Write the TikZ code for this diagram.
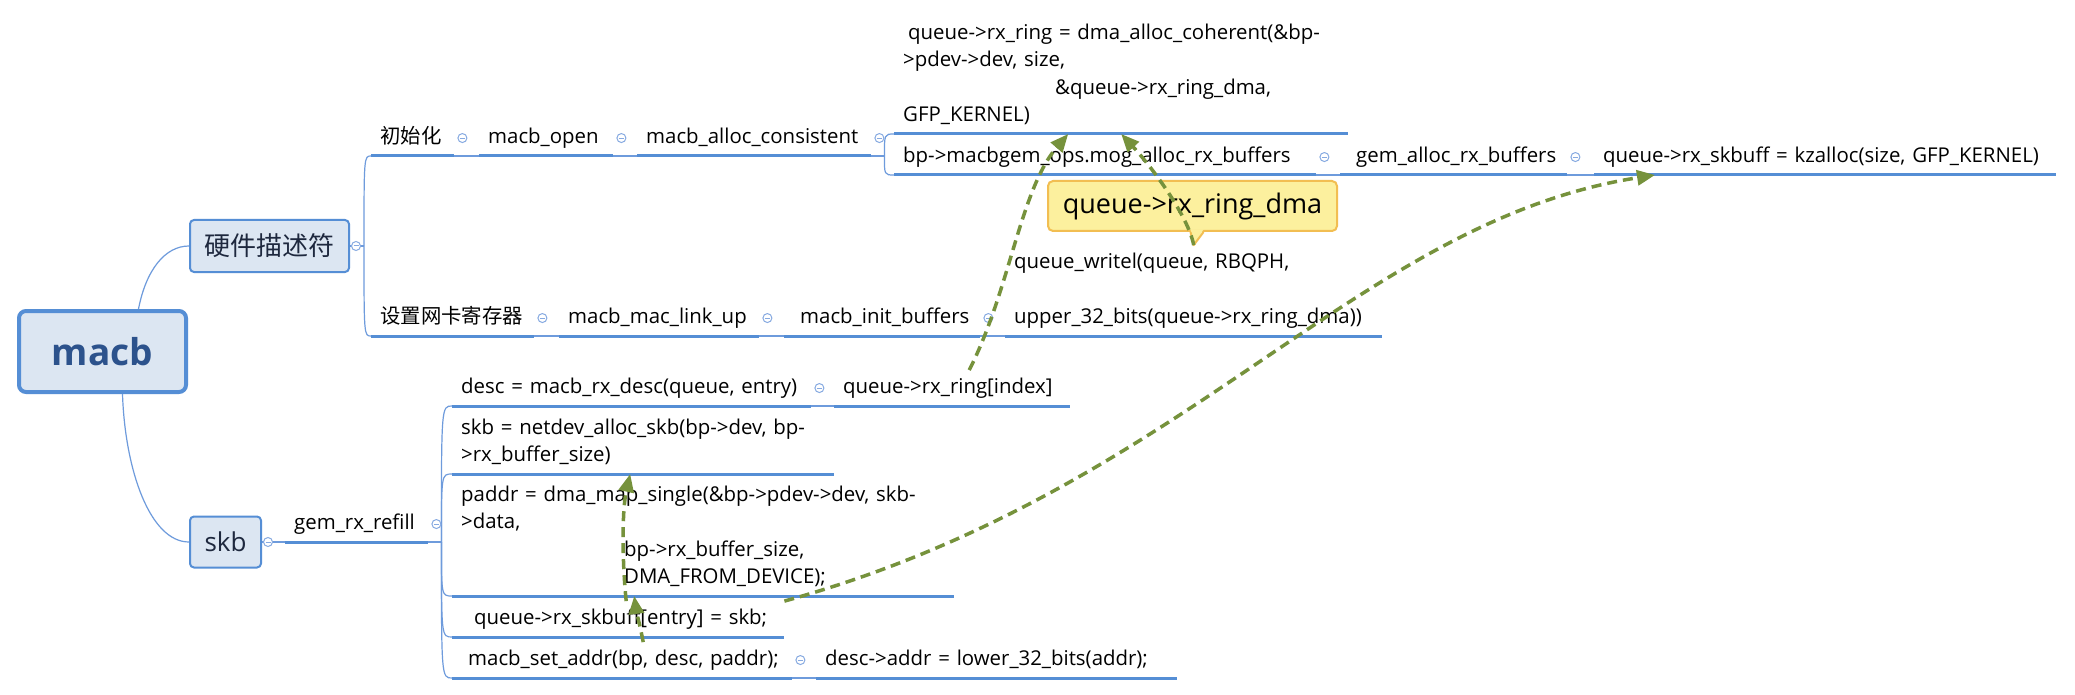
\documentclass[tikz,border=0pt]{standalone}
\usepackage{fontspec}
\setmainfont{Open Sans}
\newfontfamily\cjk{Noto Sans CJK SC}
\usetikzlibrary{arrows.meta, calc}
\definecolor{ulblue}{RGB}{85,142,213}
\definecolor{linkblue}{RGB}{110,155,220}
\definecolor{foldblue}{RGB}{135,170,225}
\definecolor{boxfill}{RGB}{220,230,242}
\definecolor{boxtext}{RGB}{44,82,140}
\definecolor{hubtext}{RGB}{30,40,62}
\definecolor{callfill}{RGB}{252,240,158}
\definecolor{callline}{RGB}{242,190,82}
\definecolor{relgreen}{RGB}{118,146,60}
\newcommand\bodyfont{\fontsize{20.4}{27.5}\selectfont}

\begin{document}
\begin{tikzpicture}[x=1pt, y=-1pt,
    topic/.style={anchor=south west, inner xsep=9pt, inner ysep=4pt, align=left, font=\bodyfont,
      /utils/exec={\pgfmathsetlengthmacro\topicw{#1-18}}, text width=\topicw,
      execute at begin node=\strut, execute at end node=\strut},
    uline/.style={ulblue, line width=3pt},
    link/.style={linkblue, line width=1.2pt},
    fold/.style={circle, draw=foldblue, fill=white, line width=1pt, minimum size=9pt, inner sep=0pt,
      path picture={\draw[foldblue, line width=1pt] ([xshift=-2.5pt]path picture bounding box.center) -- ([xshift=2.5pt]path picture bounding box.center);}},
    hubbox/.style={draw=ulblue, fill=boxfill, rounded corners=4pt, line width=2pt, inner sep=0pt, text=hubtext},
    note/.style={draw=callline, fill=callfill, line width=2pt, rounded corners=5pt, minimum width=289pt, minimum height=50pt, font=\fontsize{27}{30}\selectfont},
    relarrow/.style={relgreen, line width=3.5pt, dash pattern=on 10pt off 6pt, -{Triangle[length=18pt, width=15pt]}}]
  \path[use as bounding box, fill=white] (0,0) rectangle (2075,695);

  \node[hubbox, line width=4pt, rounded corners=7pt, minimum width=167pt, minimum height=81pt,
    font=\fontsize{37}{40}\selectfont\bfseries, text=boxtext] (root) at (102.5,351.5) {macb};
  \node[hubbox, minimum width=159pt, minimum height=52pt, font=\fontsize{26}{30}\selectfont\cjk] (hw) at (269.5,246) {硬件描述符};
  \node[hubbox, minimum width=71pt, minimum height=51pt, font=\fontsize{26}{30}\selectfont] (skb) at (225.5,542) {skb};

  \node[topic=83] (init) at (371,156) {\cjk 初始化};
  \node[topic=134] (open) at (479,156) {macb\_open};
  \node[topic=234] (consist) at (637,156) {macb\_alloc\_consistent};
  \node[topic=454] (ring) at (894,134) {\hspace*{5pt}queue->rx\_ring = dma\_alloc\_coherent(\&bp-\\
    >pdev->dev, size,\\
    \hspace*{152pt}\&queue->rx\_ring\_dma,\\
    GFP\_KERNEL)};
  \node[topic=422] (mog) at (894,175) {bp->macbgem\_ops.mog\_alloc\_rx\_buffers};
  \node[topic=227] (gemalloc) at (1340,175) {\hspace*{7pt}gem\_alloc\_rx\_buffers};
  \node[topic=462] (kzalloc) at (1594,175) {queue->rx\_skbuff = kzalloc(size, GFP\_KERNEL)};
  \node[topic=163] (regs) at (371,336) {\cjk 设置网卡寄存器};
  \node[topic=200] (linkup) at (559,336) {macb\_mac\_link\_up};
  \node[topic=196] (initbuf) at (784,336) {\hspace*{7pt}macb\_init\_buffers};
  \node[topic=377] (writel) at (1005,336) {queue\_writel(queue, RBQPH,\\[27.5pt]upper\_32\_bits(queue->rx\_ring\_dma))};

  \node[topic=143] (refill) at (285,542) {gem\_rx\_refill};
  \node[topic=359] (desc) at (452,406) {desc = macb\_rx\_desc(queue, entry)};
  \node[topic=236] (ringidx) at (834,406) {queue->rx\_ring[index]};
  \node[topic=382] (alloc) at (452,474) {skb = netdev\_alloc\_skb(bp->dev, bp-\\>rx\_buffer\_size)};
  \node[topic=502] (dmamap) at (452,596) {paddr = dma\_map\_single(\&bp->pdev->dev, skb-\\
    >data,\\
    \hspace*{163pt}bp->rx\_buffer\_size,\\
    \hspace*{163pt}DMA\_FROM\_DEVICE);};
  \node[topic=332] (skbuff) at (452,637) {\hspace*{13pt}queue->rx\_skbuff[entry] = skb;};
  \node[topic=340] (setaddr) at (452,678) {\hspace*{7pt}macb\_set\_addr(bp, desc, paddr);};
  \node[topic=361] (lower) at (816,678) {desc->addr = lower\_32\_bits(addr);};

  \draw[link] ([xshift=36pt]root.north) .. controls (146,270) and (165,246) .. (hw.west);
  \draw[link] ([xshift=20pt]root.south) .. controls (125,470) and (150,542) .. (skb.west);

  \coordinate (hwj) at ([xshift=14pt]hw.east);
  \draw[link] (hw.east) -- (hwj);
  \foreach \n in {init, regs}
    \draw[link] (hwj) .. controls (hwj |- \n.south west) .. (\n.south west);
  \draw[link] (init.south east) -- (open.south west);
  \draw[link] (open.south east) -- (consist.south west);
  \coordinate (cj) at ([xshift=13pt]consist.south east);
  \draw[link] (consist.south east) -- (cj);
  \foreach \n in {ring, mog}
    \draw[link] (cj) .. controls (cj |- \n.south west) .. (\n.south west);
  \draw[link] (mog.south east) -- (gemalloc.south west);
  \draw[link] (gemalloc.south east) -- (kzalloc.south west);
  \draw[link] (regs.south east) -- (linkup.south west);
  \draw[link] (linkup.south east) -- (initbuf.south west);
  \draw[link] (initbuf.south east) -- (writel.south west);

  \draw[link] (skb.east) -- (refill.south west);
  \coordinate (rj) at ([xshift=13pt]refill.south east);
  \draw[link] (refill.south east) -- (rj);
  \foreach \n in {desc, alloc, dmamap, skbuff, setaddr}
    \draw[link] (rj) .. controls (rj |- \n.south west) .. (\n.south west);
  \draw[link] (desc.south east) -- (ringidx.south west);
  \draw[link] (setaddr.south east) -- (lower.south west);

  \foreach \n in {init, open, consist, ring, mog, gemalloc, kzalloc, regs, linkup, initbuf, writel,
      refill, desc, ringidx, alloc, dmamap, skbuff, setaddr, lower}
    \draw[uline] (\n.south west) -- (\n.south east);

  \node[fold] (fhw) at ([xshift=6pt]hw.east) {};
  \node[fold] (fskb) at ([xshift=6pt]skb.east) {};
  \foreach \n in {init, open, consist, mog, gemalloc, regs, linkup, initbuf, refill, desc, setaddr}
    \node[fold] (f\n) at ([xshift=8pt]\n.east) {};

  \node[note] (dma) at (1192.5,206) {queue->rx\_ring\_dma};
  \fill[callfill] ([shift={(-2pt,2.5pt)}]dma.south) -- (writel.north) -- ([shift={(11pt,2.5pt)}]dma.south) -- cycle;
  \draw[callline, line width=2pt, line join=round] ([xshift=-2pt]dma.south) -- (writel.north) -- ([xshift=11pt]dma.south);

  \draw[relarrow] ([xshift=17pt]ringidx.north) .. controls (1010,290) and (1020,190) .. ([xshift=-53pt]ring.south);
  \draw[relarrow] (writel.north) .. controls (1188,215) and (1150,165) .. (ring.south);
  \draw[relarrow] (skbuff.north east) .. controls (1186,490) and (1355,222) .. ([xshift=61pt]kzalloc.south west);
  \draw[relarrow] ([xshift=21pt]setaddr.north) .. controls (640,625) and (636,610) .. ([xshift=-69pt]dmamap.south);
  \draw[relarrow] ([xshift=8pt]skbuff.north) .. controls (622,560) and (622,510) .. ([xshift=-13pt]alloc.south);
\end{tikzpicture}
\end{document}
